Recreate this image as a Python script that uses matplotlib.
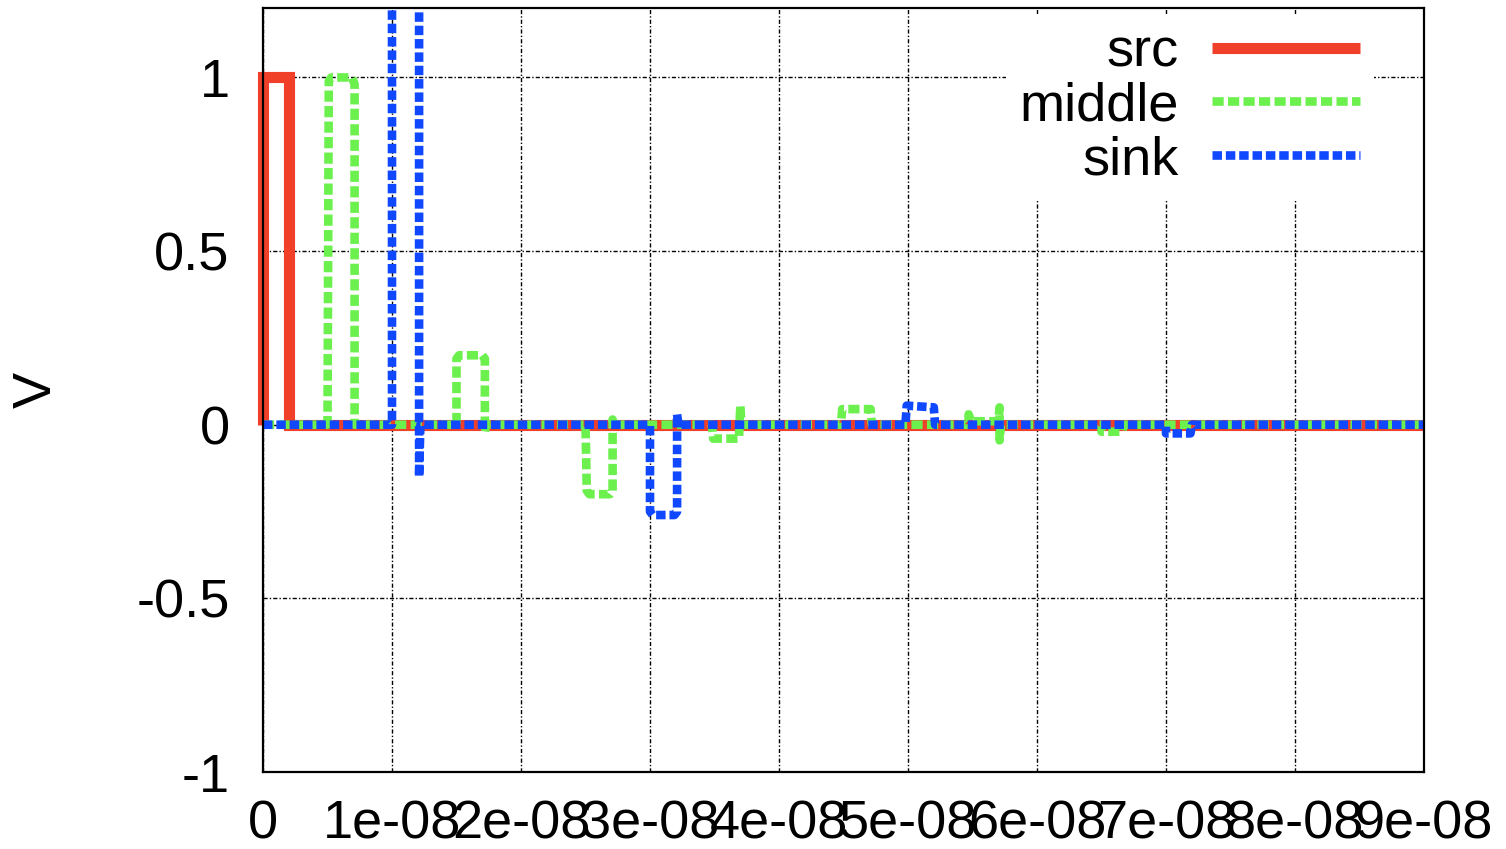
import matplotlib
matplotlib.use("Agg")
import matplotlib.pyplot as plt
import numpy as np

# signal breakpoints, time in ns, voltage in V
src_t = [0, 0, 2.0, 2.0, 90]
src_v = [0, 1.0, 1.0, 0, 0]

middle_t = [0, 5.0, 5.1, 5.3, 6.9, 7.1, 7.1,
            15.0, 15.0, 15.2, 17.0, 17.2, 17.2, 17.3,
            25.0, 25.1, 25.3, 26.9, 27.1, 27.1, 27.2,
            34.8, 34.9, 36.9, 37.0, 37.1,
            44.8, 44.9, 47.1, 47.2,
            54.7, 54.7, 54.9, 57.0, 57.1, 57.1, 57.2,
            65.0, 65.0, 66.6, 66.7, 90]
middle_v = [0, 0, 0.99, 1.0, 1.0, 0.98, 0,
            0, 0.19, 0.20, 0.20, 0.19, -0.02, 0,
            0, -0.19, -0.20, -0.20, -0.19, 0.015, 0,
            0, -0.04, -0.04, 0.055, 0,
            0, 0.045, 0.045, 0,
            0, 0.03, 0.01, 0.01, 0.05, -0.045, 0,
            0, -0.02, -0.02, 0, 0]

sink_t = [0, 10.0, 10.0, 12.1, 12.1, 12.2,
          30.0, 30.0, 30.2, 31.9, 32.1, 32.1, 32.2,
          49.8, 49.9, 52.0, 52.1,
          70.0, 70.0, 71.9, 72.0, 90]
sink_v = [0, 0, 2.0, 2.0, -0.15, 0,
          0, -0.25, -0.26, -0.26, -0.25, 0.03, 0,
          0, 0.055, 0.05, 0,
          0, -0.025, -0.025, 0, 0]

x_ticks = [0, 1e-8, 2e-8, 3e-8, 4e-8, 5e-8, 6e-8, 7e-8, 8e-8, 9e-8]
x_labels = ["0", "1e-08", "2e-08", "3e-08", "4e-08", "5e-08", "6e-08", "7e-08", "8e-08", "9e-08"]
y_ticks = [-1, -0.5, 0, 0.5, 1]
y_labels = ["-1", "-0.5", "0", "0.5", "1"]

RED = "#f0402a"
GREEN = "#6cf04e"
BLUE = "#1048ff"

plt.rcParams["font.family"] = ["Liberation Sans", "DejaVu Sans"]
FS = 39

fig = plt.figure(figsize=(15.06, 8.49), dpi=100, facecolor="white")
ax = fig.add_axes([263 / 1506, 77 / 849, 1161 / 1506, 764 / 849])

ns = 1e-9
ax.plot(np.array(src_t) * ns, src_v, color=RED, linewidth=8, solid_capstyle="butt",
        solid_joinstyle="miter", label="src", zorder=3, clip_on=False)
ax.plot(np.array(middle_t) * ns, middle_v, color=GREEN, linewidth=6.2,
        linestyle=(0, (1.3, 0.5)), dash_capstyle="butt", label="middle", zorder=4)
ax.plot(np.array(sink_t) * ns, sink_v, color=BLUE, linewidth=6.2,
        linestyle=(0, (1.1, 0.45)), dash_capstyle="butt", label="sink", zorder=5)

ax.set_xlim(0, 9e-8)
ax.set_ylim(-1, 1.2)
ax.set_xticks(x_ticks)
ax.set_xticklabels(x_labels)
ax.set_yticks(y_ticks)
ax.set_yticklabels(y_labels)
ax.tick_params(length=0, labelsize=FS, colors="black")
ax.tick_params(axis="x", pad=20)
ax.tick_params(axis="y", pad=24)
ax.grid(True, color="black", linewidth=1.0, linestyle=(0, (3, 1.5, 1, 1.5)), zorder=1)
ax.set_axisbelow(True)
for sp in ax.spines.values():
    sp.set_linewidth(1.6)
    sp.set_color("black")
    sp.set_zorder(6)

fig.text(37 / 1506, 1 - 390 / 849, "V", rotation=90, ha="center", va="center", fontsize=FS)

leg = ax.legend(loc="upper right", bbox_to_anchor=(1374 / 1506, 1 - 14 / 849),
                bbox_transform=fig.transFigure, markerfirst=False, fontsize=FS,
                handlelength=2.75, handletextpad=0.6, labelspacing=0.07,
                borderpad=0.25, borderaxespad=0, frameon=True, fancybox=False)
leg.get_frame().set_facecolor("white")
leg.get_frame().set_edgecolor("none")
leg.get_frame().set_alpha(1)
for t in leg.get_texts():
    t.set_ha("right")
leg.set_zorder(7)

fig.savefig("out.png", dpi=100, facecolor="white")
